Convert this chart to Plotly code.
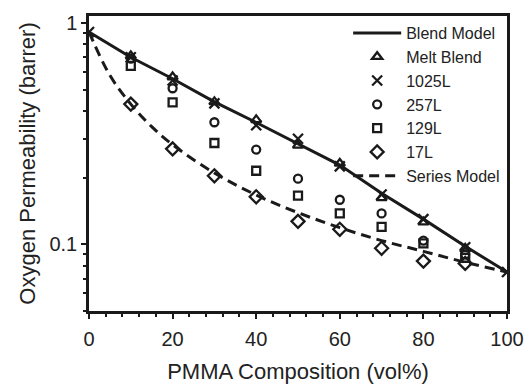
import plotly.graph_objects as go

# PMMA composition (vol%)
comp_model = [0, 10, 20, 30, 40, 50, 60, 70, 80, 90, 100]
blend_model = [0.91, 0.70, 0.56, 0.44, 0.355, 0.285, 0.228, 0.170, 0.130, 0.098, 0.075]

comp_series = [0, 5, 10, 15, 20, 30, 40, 50, 60, 70, 80, 90, 100]
series_model = [0.91, 0.58, 0.43, 0.34, 0.282, 0.21, 0.167, 0.139, 0.119, 0.104, 0.093, 0.083, 0.075]

comp_pts = [10, 20, 30, 40, 50, 60, 70, 80, 90]
melt_blend = [0.71, 0.57, 0.44, 0.365, 0.28, 0.232, 0.162, 0.126, 0.096]
comp_1025 = [0, 10, 20, 30, 40, 50, 60, 70, 80, 90, 100]
l1025 = [0.91, 0.70, 0.55, 0.433, 0.345, 0.30, 0.225, 0.168, 0.130, 0.097, 0.075]
l257 = [0.69, 0.507, 0.356, 0.268, 0.198, 0.159, 0.138, 0.104, 0.090]
l129 = [0.64, 0.438, 0.287, 0.215, 0.166, 0.138, 0.120, 0.101, 0.087]
l17 = [0.43, 0.27, 0.204, 0.164, 0.127, 0.117, 0.096, 0.084, 0.082]

x_ticks = [0, 20, 40, 60, 80, 100]
y_ticks = [0.1, 1]
y_tick_text = ["0.1", "1"]
y_minor = [0.05, 0.06, 0.07, 0.08, 0.09, 0.2, 0.3, 0.4, 0.5, 0.6, 0.7, 0.8, 0.9]

INK = "#1a1a1a"
FONT = "Liberation Sans, Arial, sans-serif"

fig = go.Figure()
fig.add_trace(go.Scatter(x=comp_model, y=blend_model, mode="lines", name="Blend Model",
                         line=dict(color=INK, width=3)))
mk = lambda sym, size: dict(symbol=sym, size=size, color=INK, line=dict(color=INK, width=2.3))
fig.add_trace(go.Scatter(x=comp_pts, y=melt_blend, mode="markers", name="Melt Blend",
                         marker=mk("triangle-up-open", 9)))
fig.add_trace(go.Scatter(x=comp_1025, y=l1025, mode="markers", name="1025L",
                         marker=mk("x-thin-open", 10)))
fig.add_trace(go.Scatter(x=comp_pts, y=l257, mode="markers", name="257L",
                         marker=mk("circle-open", 8)))
fig.add_trace(go.Scatter(x=comp_pts, y=l129, mode="markers", name="129L",
                         marker=mk("square-open", 8)))
fig.add_trace(go.Scatter(x=comp_pts, y=l17, mode="markers", name="17L",
                         marker=mk("diamond-open", 10)))
fig.add_trace(go.Scatter(x=comp_series, y=series_model, mode="lines", name="Series Model",
                         line=dict(color=INK, width=3, dash="10px,6px"), line_shape="spline"))

fig.update_layout(
    width=525, height=384,
    margin=dict(l=89, r=18, t=13, b=73),
    paper_bgcolor="white", plot_bgcolor="white",
    font=dict(family=FONT, color="#222", size=20),
    showlegend=True,
    legend=dict(x=0.62, y=1.0, xanchor="left", yanchor="top", bgcolor="rgba(0,0,0,0)",
                borderwidth=0, font=dict(size=16, family=FONT, color="#222"),
                itemwidth=48, tracegroupgap=0),
    xaxis=dict(range=[0, 100], tickvals=x_ticks, ticks="outside", ticklen=5, tickwidth=2,
               tickcolor=INK, showline=True, linewidth=2.5, linecolor=INK, mirror=True,
               showgrid=False, zeroline=False, automargin=False, ticklabelstandoff=3,
               minor=dict(dtick=4, ticks="outside", ticklen=3, tickwidth=1.5, tickcolor=INK),
               title=dict(text="PMMA Composition (vol%)", font=dict(size=22, family=FONT, color="#222"),
                          standoff=19),
               tickfont=dict(size=20, family=FONT, color="#222")),
    yaxis=dict(type="log", range=[-1.30103, 0.0314], tickvals=y_ticks, ticktext=y_tick_text,
               ticks="outside", ticklen=5, tickwidth=2, tickcolor=INK,
               showline=True, linewidth=2.5, linecolor=INK, mirror=True,
               showgrid=False, zeroline=False, automargin=True, ticklabelstandoff=0,
               minor=dict(tickvals=y_minor, ticks="outside", ticklen=3, tickwidth=1.5, tickcolor=INK),
               title=dict(text="Oxygen Permeability (barrer)", font=dict(size=22, family=FONT, color="#222"),
                          standoff=8),
               tickfont=dict(size=20, family=FONT, color="#222")),
)

fig.write_html("out.html")
